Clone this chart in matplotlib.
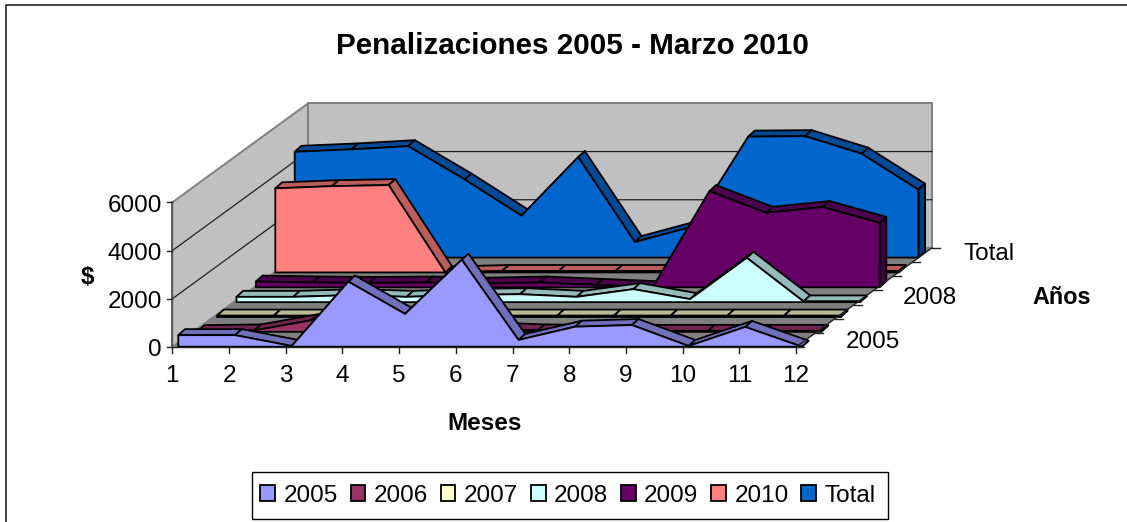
import matplotlib
matplotlib.use("Agg")
import matplotlib.pyplot as plt
from matplotlib.patches import Patch, Polygon, Rectangle

plt.rcParams['font.family'] = ['Liberation Sans', 'DejaVu Sans']

# datos
meses = [1, 2, 3, 4, 5, 6, 7, 8, 9, 10, 11, 12]
series_names = ['2005', '2006', '2007', '2008', '2009', '2010', 'Total']
v2005 = [480, 480, 30, 2700, 1360, 3610, 280, 830, 900, 30, 820, 0]
v2006 = [30, 60, 480, 200, 150, 150, 60, 40, 40, 40, 40, 40]
v2007 = [60, 60, 60, 60, 60, 60, 60, 60, 60, 60, 60, 60]
v2008 = [220, 220, 290, 220, 300, 330, 220, 540, 125, 1840, 30, 30]
v2009 = [240, 200, 180, 200, 150, 200, 100, 0, 3990, 3090, 3330, 2670]
v2010 = [3490, 3580, 3625, 0, 60, 60, 60, 60, 60, 60, 60, 60]
vTotal = [4390, 4490, 4625, 3240, 1740, 4170, 645, 1280, 5020, 5040, 4310, 2820]
values = [v2005, v2006, v2007, v2008, v2009, v2010, vTotal]

face_colors = ['#9999FF', '#993366', '#FFFFCC', '#CCFFFF', '#660066', '#FF8080', '#0066CC']
top_colors = ['#7070BA', '#702550', '#BABA95', '#95BABA', '#4A004A', '#BA5D5D', '#004A95']
side_colors = ['#5A5A96', '#5A1E40', '#969678', '#789696', '#3C003C', '#964B4B', '#003C78']

value_ticks = [0, 2000, 4000, 6000]
depth_labels = ['2005', '2008', 'Total']
depth_label_pos = [(846, 342), (903, 298), (963, 254)]

# proyeccion oblicua en pixeles de la imagen
X0, Y0 = 172.3, 347.0
DX = 56.7
KY = 0.0241
DEPTH_X, DEPTH_Y = 19.4, 14.15
SERIES_X, SERIES_Y = 6.0, 0.3
BAND_X, BAND_Y = 6.7, 6.0


def proj(month, series, value=0.0, band=0.0):
    x = X0 + (month - 1) * DX + series * DEPTH_X + SERIES_X + band * BAND_X
    y = Y0 - series * (DEPTH_Y + 0.7) - SERIES_Y - value * KY - band * BAND_Y
    return x, y


def wall(month, depth, value=0.0):
    return X0 + (month - 1) * DX + depth * DEPTH_X, Y0 - depth * DEPTH_Y - value * KY


fig = plt.figure(figsize=(11.27, 5.22), dpi=100)
ax = fig.add_axes([0, 0, 1, 1])
ax.set_xlim(0, 1127)
ax.set_ylim(522, 0)
ax.axis('off')

# borde exterior, solo arriba e izquierda
ax.plot([6, 6, 1127], [522, 5, 5], color='#202020', lw=1.2)

# paredes y suelo
wall_color = '#C0C0C0'
edge_gray = '#808080'
top_v = value_ticks[-1]
ax.add_patch(Polygon([wall(1, 0), wall(1, 0, top_v), wall(1, 7, top_v), wall(1, 7)],
                     fc=wall_color, ec=edge_gray, lw=1.4, zorder=1))
ax.add_patch(Polygon([wall(1, 7), wall(12, 7), wall(12, 7, top_v), wall(1, 7, top_v)],
                     fc=wall_color, ec=edge_gray, lw=1.4, zorder=1))
ax.add_patch(Polygon([wall(1, 0), wall(12, 0), wall(12, 7), wall(1, 7)],
                     fc=edge_gray, ec=edge_gray, lw=0.5, zorder=1))
for v in value_ticks[1:-1]:
    ax.plot(*zip(wall(1, 0, v), wall(1, 7, v), wall(12, 7, v)), color='#202020', lw=0.9, zorder=2)
ax.plot(*zip(wall(1, 0, 0), wall(1, 0, top_v)), color='#505050', lw=1.2, zorder=2)

# areas, de atras hacia adelante
zo = 3
for s in range(len(series_names) - 1, -1, -1):
    vals = values[s]
    for i in range(len(meses) - 1):
        strip = [proj(meses[i], s, vals[i]), proj(meses[i + 1], s, vals[i + 1]),
                 proj(meses[i + 1], s, vals[i + 1], 1), proj(meses[i], s, vals[i], 1)]
        ax.add_patch(Polygon(strip, fc=top_colors[s], ec='black', lw=1.3, joinstyle='round', zorder=zo))
    end = [proj(12, s, 0), proj(12, s, vals[-1]), proj(12, s, vals[-1], 1), proj(12, s, 0, 1)]
    ax.add_patch(Polygon(end, fc=side_colors[s], ec='black', lw=1.3, zorder=zo))
    front = [proj(1, s, 0)] + [proj(m, s, v) for m, v in zip(meses, vals)] + [proj(12, s, 0)]
    ax.add_patch(Polygon(front, fc=face_colors[s], ec='black', lw=1.3, joinstyle='round', zorder=zo + 1))
    zo += 2

# ejes
tick_c = '#202020'
ax.plot(*zip(wall(1, 0), wall(12, 0)), color=tick_c, lw=1.0, zorder=30)
for m in meses:
    x, y = wall(m, 0)
    ax.plot([x, x], [y, y + 6], color=tick_c, lw=1.0, zorder=30)
    ax.text(x, 375.5, str(m), ha='center', va='center', fontsize=17.5)
for v in value_ticks:
    x, y = wall(1, 0, v)
    ax.plot([x - 5, x], [y, y], color=tick_c, lw=1.0, zorder=30)
    ax.text(162, y + 3.5, str(v), ha='right', va='center', fontsize=17.5)
ax.plot(*zip(wall(12, 0), wall(12, 7)), color=tick_c, lw=1.0, zorder=30)
for d in range(8):
    x, y = wall(12, d)
    ax.plot([x, x + 8], [y, y], color=tick_c, lw=1.0, zorder=30)
for lab, (x, y) in zip(depth_labels, depth_label_pos):
    ax.text(x, y, lab, ha='left', va='center', fontsize=17.5)

# textos
ax.text(572.5, 45.5, 'Penalizaciones 2005 - Marzo 2010', ha='center', va='center',
        fontsize=21.3, fontweight='bold')
ax.text(484.5, 423, 'Meses', ha='center', va='center', fontsize=17.5, fontweight='bold')
ax.text(87, 277, '$', ha='center', va='center', fontsize=17.5, fontweight='bold')
ax.text(1062, 298, 'Años', ha='center', va='center', fontsize=16.8, fontweight='bold')

# leyenda
ax.add_patch(Rectangle((252, 472), 636, 47, fc='white', ec='black', lw=1.0, zorder=31))
handles = [Patch(fc=c, ec='black', lw=1.3, label=n) for c, n in zip(face_colors, series_names)]
leg = ax.legend(handles=handles, ncol=7, loc='center', bbox_to_anchor=(568 / 1127, 1 - 495.5 / 522),
                bbox_transform=ax.transAxes, fontsize=17.5, frameon=False,
                handlelength=0.6, handleheight=0.6,
                handletextpad=0.35, columnspacing=0.53, borderpad=0, borderaxespad=0)
leg.set_zorder(32)

fig.savefig('out.png', dpi=100)
